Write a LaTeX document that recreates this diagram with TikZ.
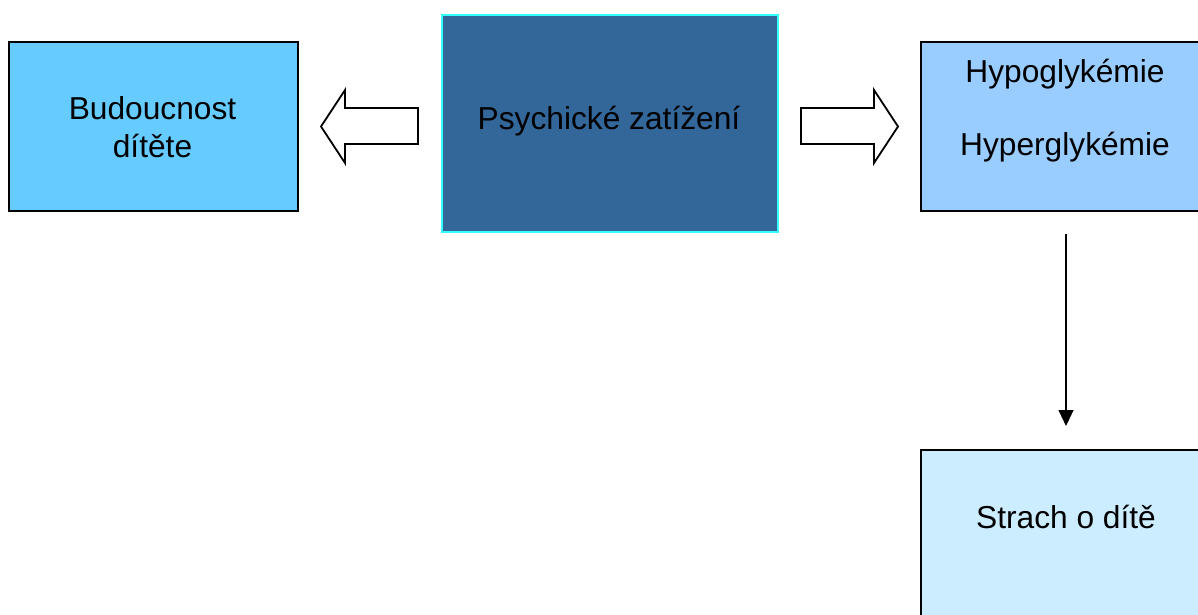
\documentclass[tikz,border=0pt]{standalone}
\usepackage{fontspec}
\setmainfont{Liberation Sans}
\usetikzlibrary{arrows.meta}
\definecolor{boxA}{HTML}{66CCFF}
\definecolor{boxB}{HTML}{336699}
\definecolor{boxBline}{HTML}{33FFFF}
\definecolor{boxC}{HTML}{99CCFF}
\definecolor{boxD}{HTML}{CCECFF}
\tikzset{
  box/.style={draw=black, line width=1.3pt, inner sep=0pt, outer sep=0pt, minimum width=289pt, minimum height=169pt},
  txt/.style={inner sep=0pt, anchor=base, font=\fontsize{31.7}{37}\selectfont},
  blockarrow/.style={draw=black, line width=1.8pt, fill=white, line join=miter},
  link/.style={draw=black, line width=1.1pt, -{Triangle[length=16pt,width=15pt]}}
}
\begin{document}
\begin{tikzpicture}[x=1pt, y=-1pt]
\clip (0,0) rectangle (1198,615);
\fill[white] (0,0) rectangle (1198,615);
% boxes
\node[box, fill=boxA] (fut) at (153.5,126.5) {};
\node[box, fill=boxB, draw=boxBline, line width=1.6pt, minimum width=336pt, minimum height=217pt] (psy) at (610,123.5) {};
\node[box, fill=boxC, minimum width=290pt] (gly) at (1066,126.5) {};
\node[box, fill=boxD, minimum width=290pt] (fear) at (1066,534.5) {};
% texts
\node[txt] (t1) at (152.5,119) {Budoucnost};
\node[txt] (t2) at (152.5,157) {dítěte};
\node[txt] (t3) at (609,129) {Psychické zatížení};
\node[txt] (t4) at (1065,83) {Hypoglykémie};
\node[txt] (t5) at (1065,155) {Hyperglykémie};
\node[txt] (t6) at (1066,528) {Strach o dítě};
% block arrows
\draw[blockarrow] (418,108) -- (345,108) -- (345,90) -- (321,126.5) -- (345,163) -- (345,144) -- (418,144) -- cycle;
\draw[blockarrow] (801,108) -- (874,108) -- (874,90) -- (898,126.5) -- (874,163) -- (874,144) -- (801,144) -- cycle;
% connector
\draw[link, shorten <=23pt, shorten >=24pt] (gly.south) -- (fear.north);
\end{tikzpicture}
\end{document}
